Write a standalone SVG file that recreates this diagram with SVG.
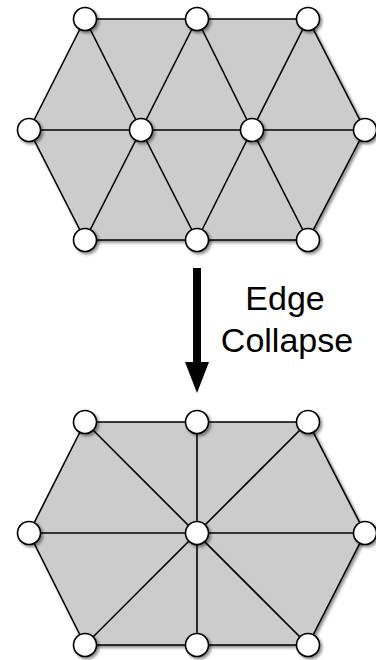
<svg xmlns="http://www.w3.org/2000/svg" width="376" height="660" viewBox="0 0 376 660">
<defs>
<filter id="sh" x="-20%" y="-20%" width="150%" height="150%">
<feDropShadow dx="2" dy="2" stdDeviation="1.5" flood-color="#000" flood-opacity="0.45"/>
</filter>
</defs>
<style>
.mesh{fill:#cccccc;stroke:#000;stroke-width:1.6;stroke-linejoin:round}
.e{stroke:#000;stroke-width:1.6;fill:none}
.n{fill:#fff;stroke:#000;stroke-width:1.6}
.t{font-family:"Liberation Sans",Arial,sans-serif;font-size:34px;fill:#000;text-anchor:middle}
</style>
<rect width="376" height="660" fill="#fff"/>
<g id="mesh-top">
<polygon class="mesh" filter="url(#sh)" points="85,19 308,19 365,130 308,240 85,240 29,130"/>
<g id="edges-top">
<line class="e" x1="29" y1="130" x2="365" y2="130"/>
<line class="e" x1="85" y1="19" x2="141" y2="130"/>
<line class="e" x1="197" y1="19" x2="141" y2="130"/>
<line class="e" x1="197" y1="19" x2="252" y2="130"/>
<line class="e" x1="308" y1="19" x2="252" y2="130"/>
<line class="e" x1="85" y1="240" x2="141" y2="130"/>
<line class="e" x1="197" y1="240" x2="141" y2="130"/>
<line class="e" x1="197" y1="240" x2="252" y2="130"/>
<line class="e" x1="308" y1="240" x2="252" y2="130"/>
</g>
<g id="nodes-top" filter="url(#sh)">
<circle class="n" cx="85" cy="19" r="11.5"/>
<circle class="n" cx="197" cy="19" r="11.5"/>
<circle class="n" cx="308" cy="19" r="11.5"/>
<circle class="n" cx="29" cy="130" r="11.5"/>
<circle class="n" cx="141" cy="130" r="11.5"/>
<circle class="n" cx="252" cy="130" r="11.5"/>
<circle class="n" cx="365" cy="130" r="11.5"/>
<circle class="n" cx="85" cy="240" r="11.5"/>
<circle class="n" cx="197" cy="240" r="11.5"/>
<circle class="n" cx="308" cy="240" r="11.5"/>
</g>
</g>
<g id="arrow">
<rect x="193" y="268" width="8" height="96" fill="#000"/>
<polygon points="185,362 209,362 197,393" fill="#000"/>
</g>
<g id="label">
<text class="t" x="285" y="310">Edge</text>
<text class="t" x="287" y="352">Collapse</text>
</g>
<g id="mesh-bottom">
<polygon class="mesh" filter="url(#sh)" points="85,422 308,422 365,533 308,645 85,645 29,533"/>
<g id="edges-bottom">
<line class="e" x1="29" y1="533" x2="365" y2="533"/>
<line class="e" x1="197" y1="422" x2="197" y2="645"/>
<line class="e" x1="85" y1="422" x2="308" y2="645"/>
<line class="e" x1="308" y1="422" x2="85" y2="645"/>
</g>
<g id="nodes-bottom" filter="url(#sh)">
<circle class="n" cx="85" cy="422" r="11.5"/>
<circle class="n" cx="197" cy="422" r="11.5"/>
<circle class="n" cx="308" cy="422" r="11.5"/>
<circle class="n" cx="29" cy="533" r="11.5"/>
<circle class="n" cx="197" cy="533" r="11.5"/>
<circle class="n" cx="365" cy="533" r="11.5"/>
<circle class="n" cx="85" cy="645" r="11.5"/>
<circle class="n" cx="197" cy="645" r="11.5"/>
<circle class="n" cx="308" cy="645" r="11.5"/>
</g>
</g>
</svg>
